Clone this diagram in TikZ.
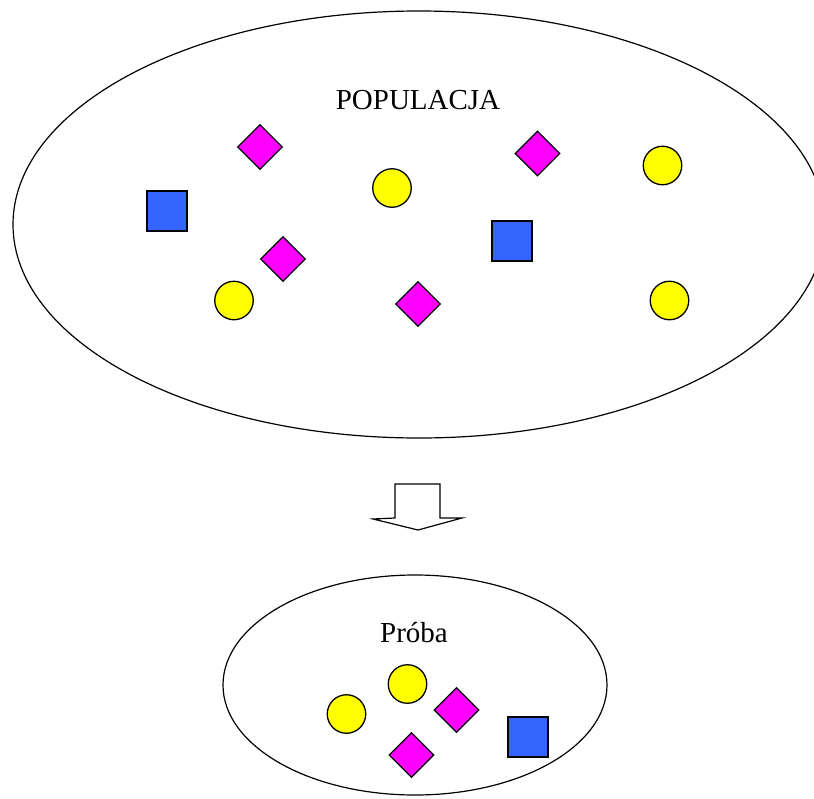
\documentclass[tikz,border=0pt]{standalone}
\usepackage{fontspec}
\setmainfont{Liberation Serif}
\usetikzlibrary{shapes.geometric}
\definecolor{sqblue}{HTML}{3366FF}
\definecolor{dmag}{HTML}{FF00FF}
\definecolor{cyell}{HTML}{FFFF00}
\begin{document}
\begin{tikzpicture}[x=1pt,y=-1pt,
  outline/.style={draw=black,line width=1.3pt},
  sq/.style={outline,fill=sqblue,rectangle,minimum size=40pt,inner sep=0pt},
  dia/.style={outline,fill=dmag,diamond,minimum size=45pt,inner sep=0pt},
  circ/.style={outline,fill=cyell,circle,minimum size=38.5pt,inner sep=0pt},
  lbl/.style={font=\fontsize{29}{32}\selectfont,inner sep=0pt}]
\useasboundingbox (0,0) rectangle (814,798);
% population
\draw[outline,line width=1.2pt] (419,224.5) ellipse [x radius=406, y radius=213.5];
\node[lbl] (pop) at (418,100) {POPULACJA};
\node[dia]  (d1) at (260,147) {};
\node[dia]  (d2) at (537.5,153.5) {};
\node[circ] (c1) at (392,188) {};
\node[circ] (c2) at (662.5,165.5) {};
\node[sq]   (s1) at (167,211) {};
\node[sq]   (s2) at (512,241) {};
\node[dia]  (d3) at (283,259) {};
\node[circ] (c3) at (234,300.5) {};
\node[dia]  (d4) at (418,304) {};
\node[circ] (c4) at (669.5,300.5) {};
% block arrow
\draw[outline,line width=1.2pt,fill=white,line join=miter]
  (395,484) -- (440,484) -- (440,518) -- (462,518) -- (418,530)
  -- (373,519) -- (395,518) -- cycle;
% sample
\draw[outline,line width=1.2pt] (415,685) ellipse [x radius=192, y radius=110];
\node[lbl] (sample) at (414,633) {Próba};
\node[circ] (p1) at (346.5,714) {};
\node[circ] (p2) at (407.5,684) {};
\node[dia]  (p3) at (456.5,710) {};
\node[dia]  (p4) at (411.5,755) {};
\node[sq]   (p5) at (528,737) {};
\end{tikzpicture}
\end{document}
